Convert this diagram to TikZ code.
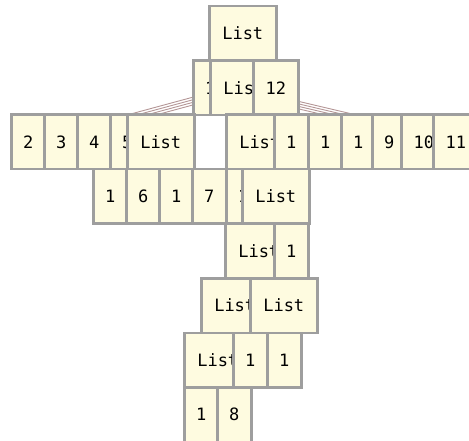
\documentclass[tikz,border=0pt]{standalone}
\usepackage{fontspec}
\newfontfamily\cellfont{DejaVu Sans Mono}
\definecolor{cellfill}{RGB}{254,251,224}
\definecolor{cellline}{RGB}{158,158,158}
\definecolor{linkcol}{RGB}{180,150,150}
\tikzset{
  cell/.style={draw=cellline, fill=cellfill, line width=2.5pt, rectangle,
    anchor=north west, inner sep=0pt, minimum height=54.5pt,
    minimum width=34pt, font=\cellfont\fontsize{17}{19}\selectfont},
  wide/.style={cell, minimum width=45pt},
  listcell/.style={cell, minimum width=67pt},
  link/.style={draw=linkcol, line width=0.9pt}
}
\begin{document}
\begin{tikzpicture}[x=1pt, y=-1pt]
    \useasboundingbox (0,0) rectangle (469,441);
    \clip (0,0) rectangle (469,441);
    % edges, mostly hidden behind the cells
    \coordinate (p1) at (212,92);    \coordinate (c1) at (110,119.6);
    \coordinate (p2) at (212,94.6);  \coordinate (c2) at (110,122.2);
    \coordinate (p3) at (212,97.2);  \coordinate (c3) at (110,124.8);
    \coordinate (p4) at (212,99.8);  \coordinate (c4) at (110,127.4);
    \coordinate (q1) at (280,97);    \coordinate (d1) at (370,118.2);
    \coordinate (q2) at (280,99.5);  \coordinate (d2) at (370,120.7);
    \coordinate (q3) at (280,102);   \coordinate (d3) at (370,123.2);
    \coordinate (q4) at (280,104.5); \coordinate (d4) at (370,125.7);
    \coordinate (s1) at (180,126);   \coordinate (s2) at (210,106);
    \draw[link] (p1) -- (c1);
    \draw[link] (p2) -- (c2);
    \draw[link] (p3) -- (c3);
    \draw[link] (p4) -- (c4);
    \draw[link] (q1) -- (d1);
    \draw[link] (q2) -- (d2);
    \draw[link] (q3) -- (d3);
    \draw[link] (q4) -- (d4);
    \draw[link] (s1) -- (s2);
    % row 0
    \node[listcell] (root) at (208,5) {List};
    % row 1
    \node[cell] (r1a) at (192,59.5) {1};
    \node[listcell] (r1b) at (209,59.5) {List};
    \node[wide] (r1c) at (252,59.5) {12};
    % row 2
    \node[cell] (r2a) at (10,113.5) {2};
    \node[cell] (r2b) at (43,113.5) {3};
    \node[cell] (r2c) at (76,113.5) {4};
    \node[cell] (r2d) at (109,113.5) {5};
    \node[listcell] (r2e) at (126,113.5) {List};
    \node[listcell] (r2f) at (225,113.5) {List};
    \node[cell] (r2g) at (273,113.5) {1};
    \node[cell] (r2h) at (307,113.5) {1};
    \node[cell] (r2i) at (340,113.5) {1};
    \node[cell] (r2j) at (371,113.5) {9};
    \node[wide] (r2k) at (400,113.5) {10};
    \node[wide] (r2l) at (432,113.5) {11};
    % row 3
    \node[cell] (r3a) at (92,168) {1};
    \node[cell] (r3b) at (125,168) {6};
    \node[cell] (r3c) at (158,168) {1};
    \node[cell] (r3d) at (191,168) {7};
    \node[cell] (r3e) at (225,168) {1};
    \node[listcell] (r3f) at (241,168) {List};
    % row 4
    \node[listcell] (r4a) at (224,222.5) {List};
    \node[cell] (r4b) at (273,222.5) {1};
    % row 5
    \node[listcell] (r5a) at (200,277) {List};
    \node[listcell] (r5b) at (249,277) {List};
    % row 6
    \node[listcell] (r6a) at (183,331.5) {List};
    \node[cell] (r6b) at (232,331.5) {1};
    \node[cell] (r6c) at (266,331.5) {1};
    % row 7
    \node[cell] (r7a) at (183,386) {1};
    \node[cell] (r7b) at (216,386) {8};
\end{tikzpicture}
\end{document}
